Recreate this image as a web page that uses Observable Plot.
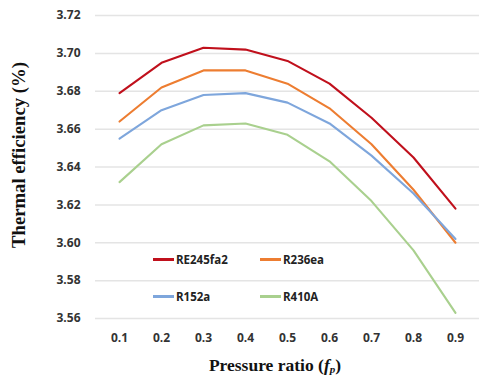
<!DOCTYPE html>
<html><head><meta charset="utf-8">
<script src="https://cdn.jsdelivr.net/npm/d3@7"></script>
<script src="https://cdn.jsdelivr.net/npm/@observablehq/plot@0.6"></script>
<style>
body{margin:0;background:#fff;}
#wrap{position:relative;width:479px;height:376px;overflow:hidden;}
.lg{position:absolute;font:bold 11.5px "Open Sans",sans-serif;color:#222;display:flex;align-items:center;}
.lg span{display:inline-block;width:21px;height:2.5px;margin-right:2px;}
</style></head>
<body><div id="wrap"></div>
<script>
const ratios = [0.1,0.2,0.3,0.4,0.5,0.6,0.7,0.8,0.9];
const seriesNames = ["RE245fa2","R236ea","R152a","R410A"];
const RE245fa2 = [3.679,3.695,3.703,3.702,3.696,3.684,3.666,3.645,3.618];
const R236ea   = [3.664,3.682,3.691,3.691,3.684,3.671,3.652,3.628,3.600];
const R152a    = [3.655,3.670,3.678,3.679,3.674,3.663,3.646,3.626,3.602];
const R410A    = [3.632,3.652,3.662,3.663,3.657,3.643,3.622,3.596,3.563];
const yTicks = [3.56,3.58,3.60,3.62,3.64,3.66,3.68,3.70,3.72];
const colors = ["#c0101c","#ed7d31","#7ea6dc","#a9d08e"];
const allSeries = [RE245fa2,R236ea,R152a,R410A];
const data = [];
allSeries.forEach((s,i)=>s.forEach((v,j)=>data.push({name:seriesNames[i],x:ratios[j],y:v})));

const chart = Plot.plot({
  width:479, height:376,
  marginLeft:95, marginRight:0, marginTop:15, marginBottom:58,
  style:{fontFamily:"'Open Sans',sans-serif",fontSize:"12px",fontWeight:"bold",color:"#333"},
  x:{type:"point",domain:ratios,padding:0.5,label:null,tickSize:0,tickPadding:15},
  y:{domain:[3.56,3.72],ticks:yTicks,tickFormat:d3.format(".2f"),label:null,tickSize:0,tickPadding:15},
  color:{domain:seriesNames,range:colors},
  marks:[
    Plot.gridY(yTicks,{stroke:"#e4e4e4",strokeOpacity:1,strokeWidth:1.5}),
    Plot.line(data,{x:"x",y:"y",stroke:"name",strokeWidth:2.1})
  ]
});
const wrap = document.getElementById("wrap");
wrap.appendChild(chart);
const svg = d3.select(chart);
svg.append("text")
  .attr("transform","translate(18,155) rotate(-90)")
  .attr("text-anchor","middle").attr("dominant-baseline","central")
  .style("font-family","'Liberation Serif',serif").style("font-size","18.7px").style("font-weight","bold").attr("fill","#111")
  .text("Thermal efficiency (%)");
const xt = svg.append("text")
  .attr("x",275).attr("y",365)
  .attr("text-anchor","middle").attr("dominant-baseline","central")
  .style("font-family","'Liberation Serif',serif").style("font-size","17.5px").style("font-weight","bold").attr("fill","#111");
xt.append("tspan").text("Pressure ratio (");
xt.append("tspan").style("font-style","italic").text("f");
xt.append("tspan").style("font-style","italic").style("font-size","11px").attr("dy","4").text("p");
xt.append("tspan").attr("dy","-4").text(")");

const legendPos = [[153,252],[260,252],[153,289],[260,289]];
seriesNames.forEach((n,i)=>{
  const d=document.createElement("div");d.className="lg";
  d.style.left=legendPos[i][0]+"px";d.style.top=legendPos[i][1]+"px";
  d.innerHTML=`<span style="background:${colors[i]}"></span>${n}`;
  wrap.appendChild(d);
});
</script></body></html>
